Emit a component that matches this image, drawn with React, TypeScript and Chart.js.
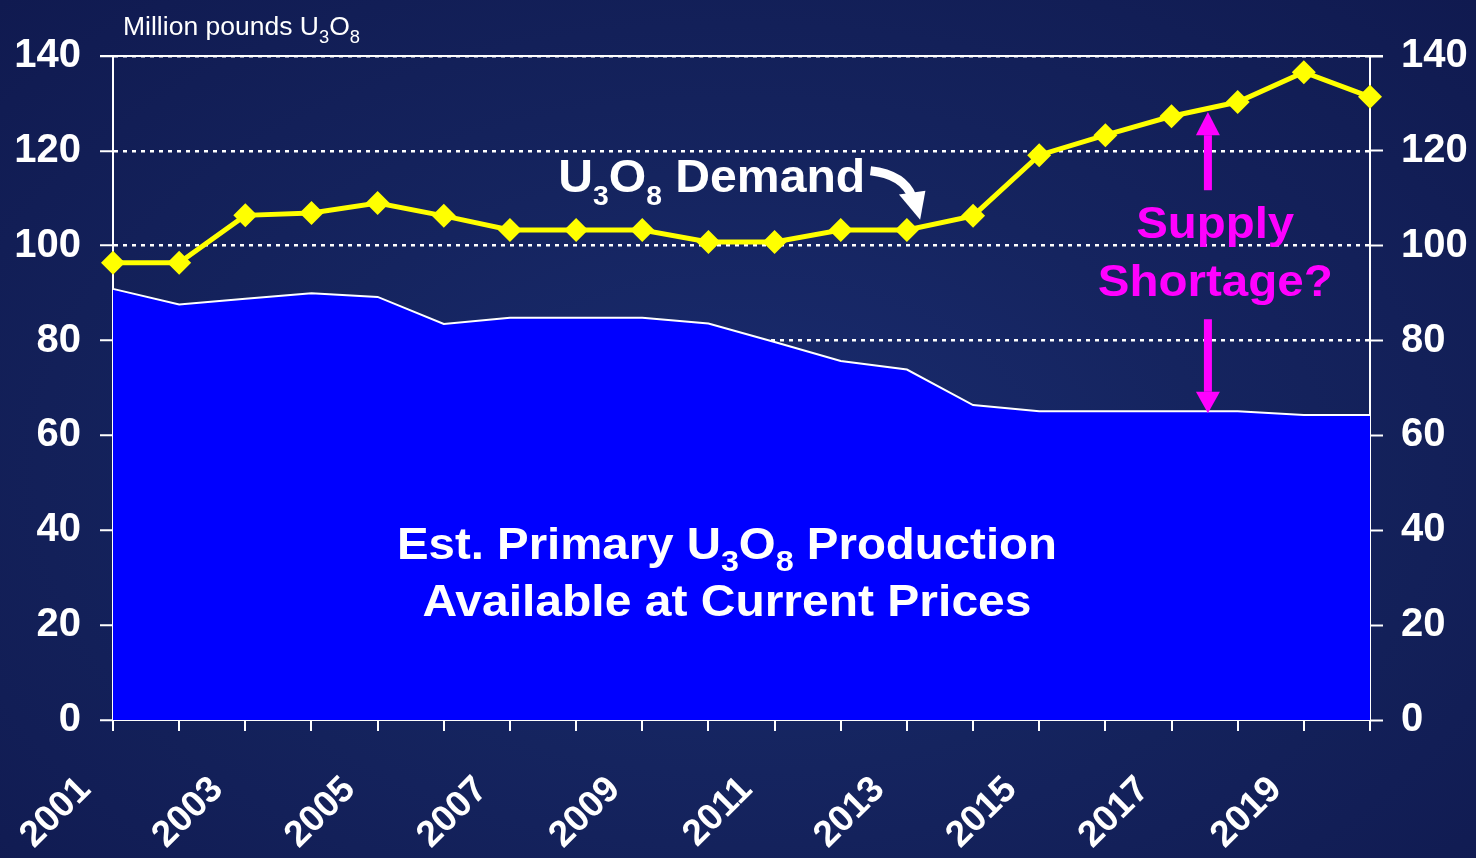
import React, { useEffect, useRef } from "react";
import { Chart, registerables } from "chart.js";

Chart.register(...registerables);

const years = [
  "2001", "2002", "2003", "2004", "2005", "2006", "2007", "2008", "2009", "2010",
  "2011", "2012", "2013", "2014", "2015", "2016", "2017", "2018", "2019", "2020",
];
const demand = [
  96.4, 96.4, 106.4, 106.9, 109.0, 106.3, 103.3, 103.3, 103.3, 100.8,
  100.8, 103.3, 103.3, 106.3, 119.1, 123.3, 127.3, 130.3, 136.6, 131.4,
];
const production = [
  90.9, 87.6, 88.8, 90.0, 89.2, 83.5, 84.8, 84.8, 84.8, 83.6,
  79.7, 75.7, 73.9, 66.4, 65.1, 65.1, 65.1, 65.1, 64.3, 64.3,
];
const yTicks = [0, 20, 40, 60, 80, 100, 120, 140];

const FONT = "'Liberation Sans', Arial, sans-serif";

type Seg = { t: string; sub?: boolean };

function drawRich(ctx: CanvasRenderingContext2D, segs: Seg[], cx: number, baseline: number, size: number, subSize: number, subDrop: number, color: string, weight: string, targetWidth?: number, align: "center" | "left" = "center") {
  ctx.save();
  ctx.fillStyle = color;
  ctx.textBaseline = "alphabetic";
  ctx.textAlign = "left";
  const widths = segs.map((s) => {
    ctx.font = `${weight} ${s.sub ? subSize : size}px ${FONT}`;
    return ctx.measureText(s.t).width;
  });
  const total = widths.reduce((a, b) => a + b, 0);
  const sx = targetWidth ? targetWidth / total : 1;
  const w = total * sx;
  const startX = align === "center" ? cx - w / 2 : cx;
  ctx.translate(startX, baseline);
  ctx.scale(sx, 1);
  let x = 0;
  segs.forEach((s, i) => {
    ctx.font = `${weight} ${s.sub ? subSize : size}px ${FONT}`;
    ctx.fillText(s.t, x, s.sub ? subDrop : 0);
    x += widths[i];
  });
  ctx.restore();
}

const overlayPlugin = {
  id: "overlay",
  afterDraw(chart: any) {
    const { ctx, chartArea } = chart;
    const xs = chart.scales.x;
    const ys = chart.scales.y;
    const X = (v: number) => xs.getPixelForValue(v);
    const Y = (v: number) => ys.getPixelForValue(v);

    // top solid line
    ctx.save();
    ctx.strokeStyle = "#ffffff";
    ctx.lineWidth = 2;
    ctx.beginPath();
    ctx.moveTo(chartArea.left - 13, Y(140));
    ctx.lineTo(chartArea.right + 13, Y(140));
    ctx.stroke();
    ctx.restore();

    // axis title
    drawRich(ctx, [{ t: "Million pounds U" }, { t: "3", sub: true }, { t: "O" }, { t: "8", sub: true }],
      chartArea.left + 10, Y(140) - 21, 26, 18, 8, "#ffffff", "normal", 237, "left");

    // Demand label
    drawRich(ctx, [{ t: "U" }, { t: "3", sub: true }, { t: "O" }, { t: "8", sub: true }, { t: " Demand" }],
      X(9.05), Y(111.3), 46, 27, 13, "#ffffff", "bold", 307);

    // curved arrow
    ctx.save();
    ctx.strokeStyle = "#ffffff";
    ctx.fillStyle = "#ffffff";
    ctx.lineWidth = 9;
    ctx.lineCap = "butt";
    const ax0 = X(11.45), ay0 = Y(115.8);
    const tipX = X(12.2), tipY = Y(105.5);
    ctx.beginPath();
    ctx.moveTo(ax0, ay0);
    ctx.quadraticCurveTo(X(11.95), Y(115.0), X(12.08), Y(110.3));
    ctx.stroke();
    ctx.beginPath();
    ctx.moveTo(tipX, tipY);
    ctx.lineTo(X(11.88), Y(110.8));
    ctx.lineTo(X(12.28), Y(111.6));
    ctx.closePath();
    ctx.fill();
    ctx.restore();

    // Supply shortage
    const magenta = "#ff00ff";
    drawRich(ctx, [{ t: "Supply" }], X(16.66), Y(101.6), 44, 30, 10, magenta, "bold", 158);
    drawRich(ctx, [{ t: "Shortage?" }], X(16.66), Y(89.5), 44, 30, 10, magenta, "bold", 235);

    const axX = X(16.55);
    ctx.save();
    ctx.fillStyle = magenta;
    // up arrow
    ctx.fillRect(axX - 4, Y(123.3), 8, Y(111.7) - Y(123.3));
    ctx.beginPath();
    ctx.moveTo(axX, Y(128.2));
    ctx.lineTo(axX - 12, Y(123.3));
    ctx.lineTo(axX + 12, Y(123.3));
    ctx.closePath();
    ctx.fill();
    // down arrow
    ctx.fillRect(axX - 4, Y(84.5), 8, Y(69.2) - Y(84.5));
    ctx.beginPath();
    ctx.moveTo(axX, Y(64.7));
    ctx.lineTo(axX - 12, Y(69.2));
    ctx.lineTo(axX + 12, Y(69.2));
    ctx.closePath();
    ctx.fill();
    ctx.restore();

    // production label
    drawRich(ctx, [{ t: "Est. Primary U" }, { t: "3", sub: true }, { t: "O" }, { t: "8", sub: true }, { t: " Production" }],
      X(9.28), Y(33.9), 44, 30, 12, "#ffffff", "bold", 660);
    drawRich(ctx, [{ t: "Available at Current Prices" }],
      X(9.28), Y(22.0), 44, 30, 12, "#ffffff", "bold", 609);
  },
};

export default function App() {
  const ref = useRef<HTMLCanvasElement | null>(null);

  useEffect(() => {
    if (!ref.current) return;
    document.body.style.margin = "0";
    const chart = new Chart(ref.current, {
      type: "line",
      data: {
        labels: years,
        datasets: [
          {
            label: "Demand",
            data: demand,
            borderColor: "#ffff00",
            backgroundColor: "#ffff00",
            borderWidth: 5,
            pointStyle: "rectRot",
            pointRadius: 12,
            pointBackgroundColor: "#ffff00",
            pointBorderWidth: 0,
            fill: false,
            tension: 0,
            clip: false as any,
            order: 0,
          },
          {
            label: "Production",
            data: production,
            borderColor: "#ffffff",
            backgroundColor: "#0000ff",
            borderWidth: 2,
            pointRadius: 0,
            fill: "origin",
            tension: 0,
            order: 1,
          },
        ],
      },
      options: {
        animation: false,
        responsive: false,
        maintainAspectRatio: false,
        layout: { padding: { top: 56, left: 0, right: 0, bottom: 0 } },
        plugins: { legend: { display: false }, tooltip: { enabled: false } },
        scales: {
          x: {
            type: "category",
            offset: false,
            grid: {
              drawOnChartArea: false,
              color: "#ffffff",
              tickColor: "#ffffff",
              tickLength: 11,
              lineWidth: 2,
            },
            border: { color: "#ffffff", width: 2 },
            ticks: {
              autoSkip: false,
              maxRotation: 45,
              minRotation: 45,
              color: "#ffffff",
              padding: 37,
              labelOffset: -28,
              font: { family: FONT, size: 37, weight: "bold" },
              callback: (_v: any, i: number) => (i % 2 === 0 ? years[i] : ""),
            },
            afterFit: (s: any) => { s.height = 138; },
          },
          y: {
            position: "left",
            min: 0,
            max: 140,
            afterBuildTicks: (s: any) => { s.ticks = yTicks.map((v) => ({ value: v })); },
            grid: {
              color: (c: any) => (c.tick && c.tick.value === 0 ? "rgba(0,0,0,0)" : "#ffffff"),
              lineWidth: 2.5,
              tickColor: "#ffffff",
              tickLength: 13,
              tickBorderDash: [1, 0],
              tickWidth: 2,
            },
            border: { color: "#ffffff", width: 2, dash: [4, 5] },
            ticks: {
              color: "#ffffff",
              padding: 19,
              font: { family: FONT, size: 40, weight: "bold" },
            },
            afterFit: (s: any) => { s.width = 113; },
          },
          y2: {
            position: "right",
            min: 0,
            max: 140,
            afterBuildTicks: (s: any) => { s.ticks = yTicks.map((v) => ({ value: v })); },
            grid: {
              drawOnChartArea: false,
              color: "#ffffff",
              tickColor: "#ffffff",
              tickLength: 13,
              tickWidth: 2,
            },
            border: { color: "#ffffff", width: 2 },
            ticks: {
              color: "#ffffff",
              padding: 18,
              font: { family: FONT, size: 40, weight: "bold" },
            },
            afterFit: (s: any) => { s.width = 106; },
          },
        },
      } as any,
      plugins: [overlayPlugin],
    });
    return () => chart.destroy();
  }, []);

  return (
    <div
      style={{
        position: "fixed",
        left: 0,
        top: 0,
        width: 1476,
        height: 858,
        background:
          "radial-gradient(ellipse at 50% 55%, #1a2c70 0%, #15245f 45%, #101a50 100%)",
      }}
    >
      <canvas ref={ref} width={1476} height={858} style={{ display: "block" }} />
    </div>
  );
}
